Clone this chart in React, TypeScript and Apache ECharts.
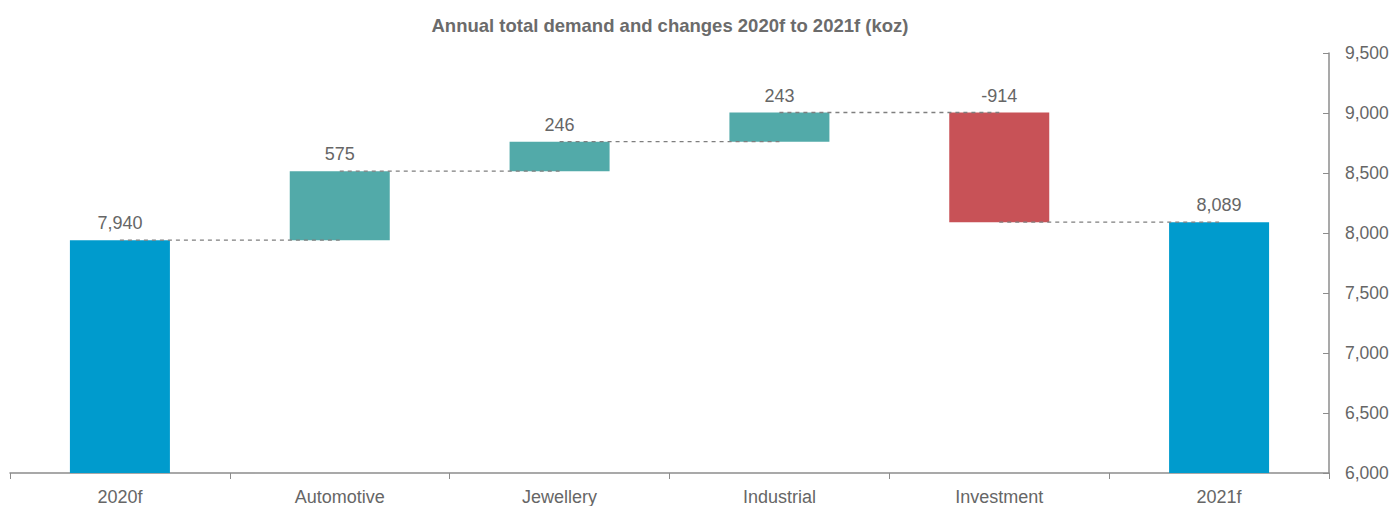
import React, { useEffect, useRef } from "react";
import * as echarts from "echarts";

const categories = ["2020f", "Automotive", "Jewellery", "Industrial", "Investment", "2021f"];
const changes = [7940, 575, 246, 243, -914, 8089];
const labelTexts = ["7,940", "575", "246", "243", "-914", "8,089"];
const yTicks = { min: 6000, max: 9500, interval: 500 };

const BLUE = "#009BCD";
const TEAL = "#52AAA9";
const RED = "#C85257";
const GREY = "#666666";

export default function App() {
  const ref = useRef<HTMLDivElement>(null);
  useEffect(() => {
    document.body.style.margin = "0";
    if (!ref.current) return;
    const chart = echarts.init(ref.current, undefined, { renderer: "svg" });

    const base: number[] = [];
    const visible: any[] = [];
    const levels: number[] = [];
    let cum = 0;
    changes.forEach((c, i) => {
      const isTotal = i === 0 || i === changes.length - 1;
      if (isTotal) {
        base.push(0);
        visible.push({ value: c, itemStyle: { color: BLUE } });
        cum = c;
      } else {
        const start = cum;
        const end = cum + c;
        base.push(Math.min(start, end));
        visible.push({ value: Math.abs(c), itemStyle: { color: c >= 0 ? TEAL : RED } });
        cum = end;
      }
      if (i < changes.length - 1) levels.push(isTotal ? c : cum);
    });

    chart.setOption({
      animation: false,
      title: {
        text: "Annual total demand and changes 2020f to 2021f (koz)",
        left: 665,
        textAlign: "center",
        top: 11,
        textStyle: { fontFamily: "Liberation Sans, Arial", fontSize: 18.5, fontWeight: "bold", color: "#6b6b6b" },
      },
      grid: { left: 10, right: 68, top: 53, bottom: 33 },
      xAxis: {
        type: "category",
        data: categories,
        axisLine: { lineStyle: { color: "#8c8c8c", width: 1.5 } },
        axisTick: { show: true, length: 6, lineStyle: { color: "#8c8c8c" } },
        axisLabel: { fontFamily: "Liberation Sans, Arial", fontSize: 18, color: GREY, margin: 15 },
      },
      yAxis: {
        type: "value",
        position: "right",
        min: yTicks.min,
        max: yTicks.max,
        interval: yTicks.interval,
        splitLine: { show: false },
        axisLine: { show: true, lineStyle: { color: "#8c8c8c", width: 1.5 } },
        axisTick: { show: true, inside: true, length: 6, lineStyle: { color: "#8c8c8c" } },
        axisLabel: {
          fontFamily: "Liberation Sans, Arial",
          fontSize: 17.5,
          color: GREY,
          margin: 16,
          formatter: (v: number) => v.toLocaleString("en-US"),
        },
      },
      series: [
        {
          type: "bar",
          stack: "w",
          data: base,
          barWidth: 100,
          itemStyle: { color: "transparent" },
          silent: true,
        },
        {
          type: "bar",
          stack: "w",
          data: visible,
          barWidth: 100,
          label: {
            show: true,
            position: "top",
            distance: 8,
            fontFamily: "Liberation Sans, Arial",
            fontSize: 18,
            color: GREY,
            formatter: (p: any) => labelTexts[p.dataIndex],
          },
        },
        {
          type: "custom",
          data: levels.map((v, i) => [i, v]),
          z: 5,
          renderItem: (params: any, api: any) => {
            const i = api.value(0);
            const v = api.value(1);
            const p1 = api.coord([i, v]);
            const p2 = api.coord([i + 1, v]);
            return {
              type: "line",
              shape: { x1: p1[0], y1: p1[1], x2: p2[0], y2: p2[1] },
              style: { stroke: "#7f7f7f", lineWidth: 1.3, lineDash: [4, 4] },
            };
          },
        },
      ],
    });
    return () => chart.dispose();
  }, []);
  return <div ref={ref} style={{ width: 1397, height: 506 }} />;
}
